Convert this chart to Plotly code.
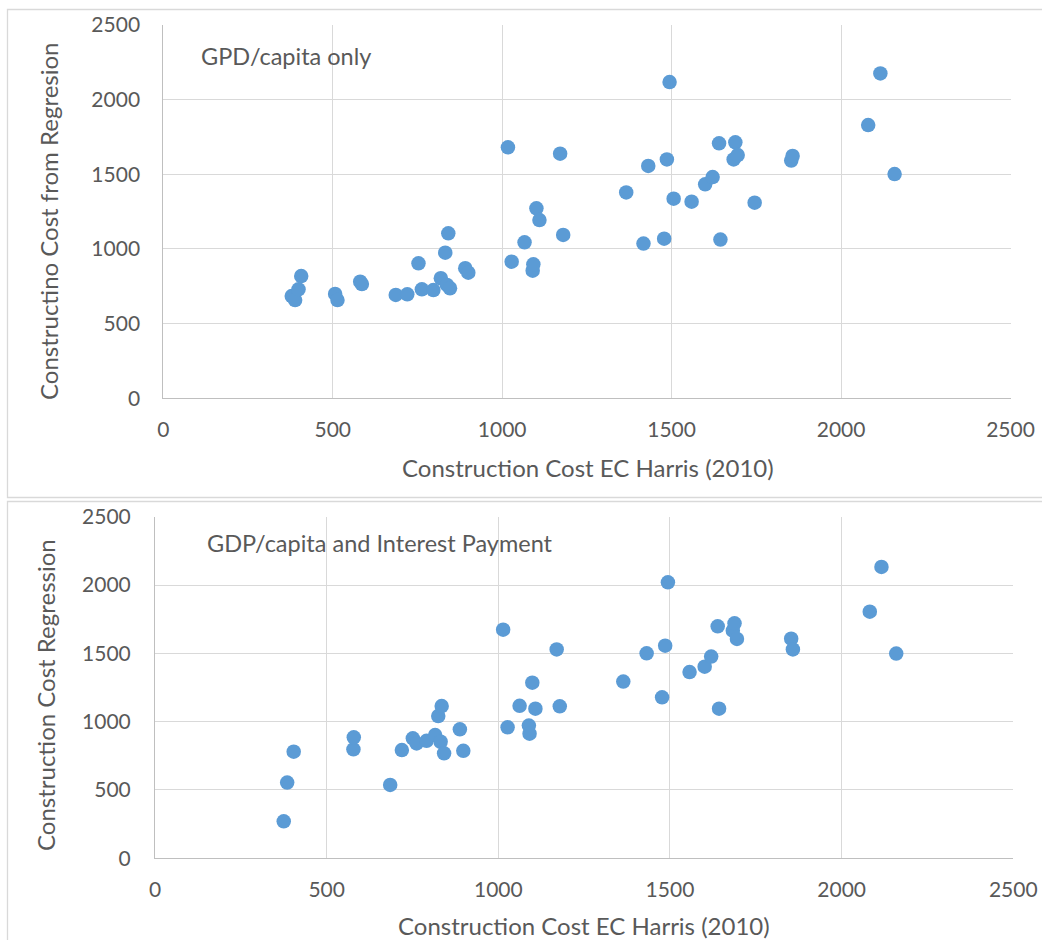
import plotly.graph_objects as go

# ---- data ----
x_top = [379, 389, 399, 407, 507, 514, 581, 586, 686, 720, 753, 763, 797, 819, 832, 837, 841, 846, 891, 900,
         1017, 1028, 1066, 1090, 1092, 1101, 1110, 1171, 1180, 1366, 1417, 1431, 1478, 1486, 1494, 1506, 1559,
         1599, 1621, 1640, 1644, 1683, 1688, 1695, 1745, 1853, 1857, 2080, 2116, 2158]
y_top = [685, 658, 730, 819, 699, 658, 781, 765, 692, 696, 904, 730, 725, 804, 975, 759, 1105, 737, 871, 841,
         1681, 915, 1045, 855, 897, 1272, 1194, 1638, 1094, 1379, 1036, 1556, 1069, 1600, 2118, 1337, 1317,
         1433, 1482, 1708, 1063, 1600, 1714, 1629, 1310, 1592, 1623, 1830, 2176, 1502]

x_bot = [375, 385, 404, 578, 579, 685, 719, 751, 762, 791, 816, 825, 832, 835, 842, 888, 898,
         1014, 1027, 1062, 1089, 1091, 1099, 1108, 1170, 1179, 1364, 1432, 1477, 1486, 1494, 1557,
         1601, 1620, 1639, 1643, 1683, 1688, 1695, 1853, 1858, 2082, 2116, 2159]
y_bot = [271, 554, 780, 798, 885, 537, 792, 878, 841, 860, 902, 1041, 853, 1114, 768, 944, 787,
         1673, 959, 1116, 971, 912, 1285, 1095, 1529, 1112, 1293, 1500, 1178, 1556, 2020, 1363,
         1402, 1476, 1698, 1095, 1666, 1720, 1605, 1607, 1529, 1805, 2132, 1498]

tick_vals = [0, 500, 1000, 1500, 2000, 2500]
label_top = "GPD/capita only"
label_bot = "GDP/capita and Interest Payment"
xtitle = "Construction Cost EC Harris (2010)"
ytitle_top = "Constructino Cost from Regresion"
ytitle_bot = "Construction Cost Regression"

# ---- layout helpers ----
W, H = 1042, 940
FONT = "Lato"
TXT = "#595959"
GRID = "#D9D9D9"
MARK = "#5B9BD5"

def px(x):
    return x / W

def py(y):
    return 1 - y / H

fig = go.Figure()
fig.add_trace(go.Scatter(x=x_top, y=y_top, mode="markers", xaxis="x", yaxis="y",
                         marker=dict(color=MARK, size=14.5, line=dict(width=0))))
fig.add_trace(go.Scatter(x=x_bot, y=y_bot, mode="markers", xaxis="x2", yaxis="y2",
                         marker=dict(color=MARK, size=14.5, line=dict(width=0))))

axis_common = dict(range=[0, 2500], tickvals=tick_vals, showgrid=True, gridcolor=GRID, gridwidth=1,
                   zeroline=False, showline=True, linecolor="#BFBFBF", linewidth=1, ticks="",
                   automargin=False,
                   tickfont=dict(family=FONT, size=21, color=TXT), fixedrange=True)

fig.update_layout(
    template="none",
    width=W, height=H, margin=dict(l=0, r=0, t=0, b=0, pad=0), autosize=False,
    paper_bgcolor="white", plot_bgcolor="white", showlegend=False,
    xaxis=dict(axis_common, domain=[px(163.3), px(1010.5)], anchor="y", ticklabelstandoff=12),
    yaxis=dict(axis_common, domain=[py(398.3), py(25)], anchor="x", ticklabelstandoff=18),
    xaxis2=dict(axis_common, domain=[px(155), px(1013.3)], anchor="y2", ticklabelstandoff=12),
    yaxis2=dict(axis_common, domain=[py(858.3), py(516.7)], anchor="x2", ticklabelstandoff=19),
)

shapes = [
    dict(type="rect", xref="paper", yref="paper", x0=px(7.5), x1=px(1060), y0=py(497.5), y1=py(9.5),
         line=dict(color="#D9D9D9", width=1.3), fillcolor="rgba(0,0,0,0)", layer="below"),
    dict(type="rect", xref="paper", yref="paper", x0=px(7.5), x1=px(1060), y0=py(960), y1=py(501.5),
         line=dict(color="#D9D9D9", width=1.3), fillcolor="rgba(0,0,0,0)", layer="below"),
]
fig.update_layout(shapes=shapes)

ann = []
ann.append(dict(text=label_top, x=px(199), y=py(56), xref="paper", yref="paper", xanchor="left",
                yanchor="middle", showarrow=False, font=dict(family=FONT, size=23.5, color=TXT)))
ann.append(dict(text=label_bot, x=px(205), y=py(543), xref="paper", yref="paper", xanchor="left",
                yanchor="middle", showarrow=False, font=dict(family=FONT, size=23.5, color=TXT)))
ann.append(dict(text=xtitle, x=px(588), y=py(468), xref="paper", yref="paper", xanchor="center",
                yanchor="middle", showarrow=False, font=dict(family=FONT, size=24, color=TXT)))
ann.append(dict(text=xtitle, x=px(584), y=py(925), xref="paper", yref="paper", xanchor="center",
                yanchor="middle", showarrow=False, font=dict(family=FONT, size=24, color=TXT)))
ann.append(dict(text=ytitle_top, x=px(48), y=py(222), xref="paper", yref="paper", xanchor="center",
                yanchor="middle", textangle=-90, showarrow=False, font=dict(family=FONT, size=24, color=TXT)))
ann.append(dict(text=ytitle_bot, x=px(45), y=py(695), xref="paper", yref="paper", xanchor="center",
                yanchor="middle", textangle=-90, showarrow=False, font=dict(family=FONT, size=24, color=TXT)))
fig.update_layout(annotations=ann)

fig.write_html("out.html", config={"displayModeBar": False},
               post_script="document.body.style.margin='0';document.body.style.overflow='hidden';")
